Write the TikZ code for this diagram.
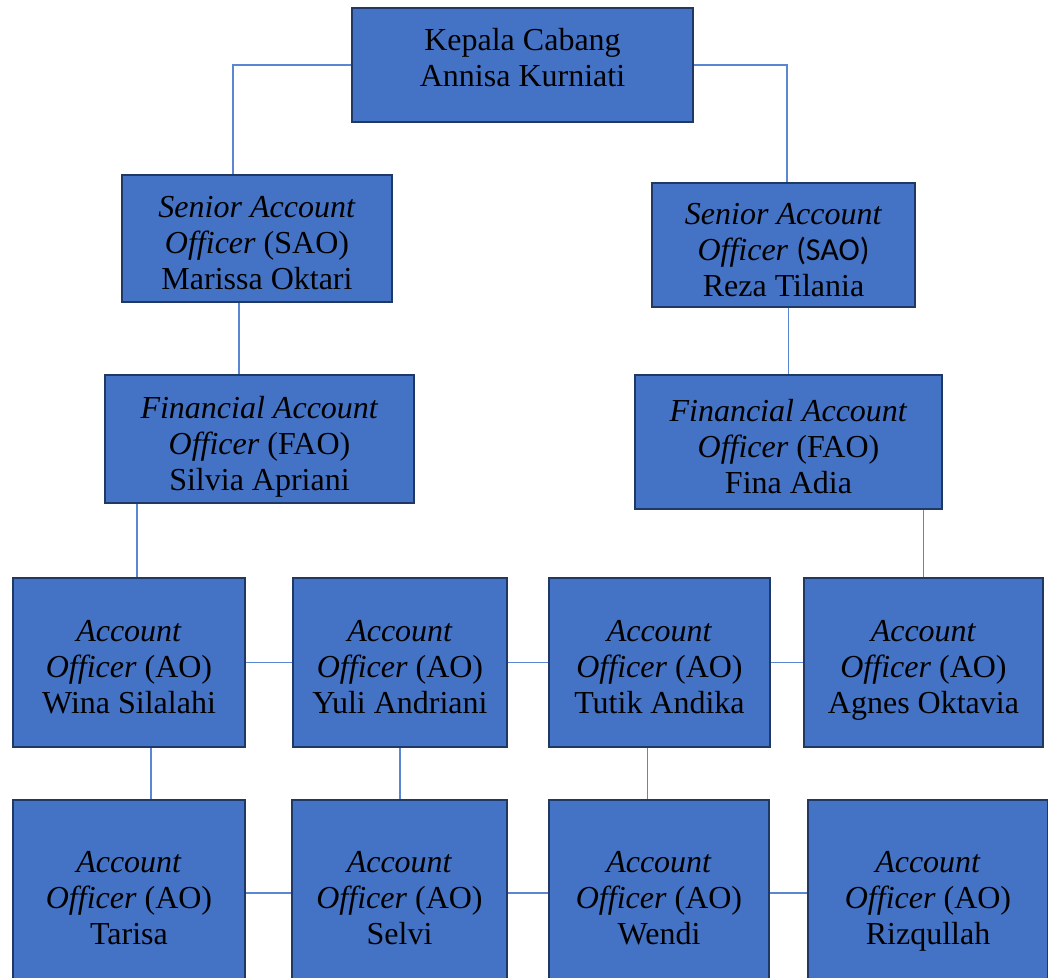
\documentclass[tikz,border=0pt]{standalone}
\usepackage{fontspec}
\setmainfont{Liberation Serif}
\newfontfamily\calibri{Carlito}
\usetikzlibrary{positioning}
\definecolor{boxfill}{HTML}{4472C4}
\definecolor{boxline}{HTML}{1F3864}
\definecolor{linkblue}{HTML}{5B86D2}
\newcommand{\orgtext}[1]{\rule{0pt}{20.6pt}#1\strut}
\tikzset{
  box/.style={draw=boxline, line width=1pt, fill=boxfill, align=center, inner sep=0pt,
    font=\fontsize{16}{18}\selectfont},
  link/.style={draw=linkblue, line width=0.6pt}
}

\begin{document}
\begin{tikzpicture}[x=0.5pt,y=-0.5pt]
\clip (0,0) rectangle (1048,978);
\fill[white] (0,0) rectangle (1048,978);

\node[box, minimum width=170.5pt, minimum height=57pt] (kc) at (522.5,65) {\orgtext{Kepala Cabang\\Annisa Kurniati\\[-6pt]\mbox{}}};
\node[box, minimum width=135pt, minimum height=63.5pt] (sao1) at (257,238.5) {\orgtext{\textit{Senior Account}\\\textit{Officer} (SAO)\\Marissa Oktari}};
\node[box, minimum width=131.5pt, minimum height=62pt] (sao2) at (783.5,245) {\orgtext{\textit{Senior Account}\\\textit{Officer} {\calibri(SAO)}\\Reza Tilania}};
\node[box, minimum width=154.5pt, minimum height=64pt] (fao1) at (259.5,439) {\orgtext{\textit{Financial Account}\\\textit{Officer} (FAO)\\Silvia Apriani}};
\node[box, minimum width=153.5pt, minimum height=67pt] (fao2) at (788.5,442) {\orgtext{\textit{Financial Account}\\\textit{Officer} (FAO)\\Fina Adia}};

\node[box, minimum width=116pt, minimum height=84.5pt] (wina) at (129,662.5) {\orgtext{\textit{Account}\\\textit{Officer} (AO)\\Wina Silalahi}};
\node[box, minimum width=107pt, minimum height=84.5pt] (yuli) at (400,662.5) {\orgtext{\textit{Account}\\\textit{Officer} (AO)\\Yuli Andriani}};
\node[box, minimum width=110.5pt, minimum height=84.5pt] (tutik) at (659.5,662.5) {\orgtext{\textit{Account}\\\textit{Officer} (AO)\\Tutik Andika}};
\node[box, minimum width=119.5pt, minimum height=84.5pt] (agnes) at (923.5,662.5) {\orgtext{\textit{Account}\\\textit{Officer} (AO)\\Agnes Oktavia}};

\node[box, minimum width=116pt, minimum height=93pt] (tarisa) at (129,893) {\orgtext{\textit{Account}\\\textit{Officer} (AO)\\Tarisa}};
\node[box, minimum width=107.5pt, minimum height=93pt] (selvi) at (399.5,893) {\orgtext{\textit{Account}\\\textit{Officer} (AO)\\Selvi}};
\node[box, minimum width=110pt, minimum height=93pt] (wendi) at (659,893) {\orgtext{\textit{Account}\\\textit{Officer} (AO)\\Wendi}};
\node[box, minimum width=120pt, minimum height=93pt] (rizq) at (928,893) {\orgtext{\textit{Account}\\\textit{Officer} (AO)\\Rizqullah}};

\draw[link] (kc.west) -| ([xshift=-12pt]sao1.north);
\draw[link] (kc.east) -| ([xshift=1.75pt]sao2.north);
\draw[link] ([xshift=-9pt]sao1.south) -- ([xshift=-9pt]sao1.south |- fao1.north);
\draw[link] (fao2.north) -- (fao2.north |- sao2.south);
\draw[link] ([xshift=4pt]wina.north) -- ([xshift=4pt]wina.north |- fao1.south);
\draw[link] (agnes.north) -- (agnes.north |- fao2.south);

\draw[link] (wina.east) -- (yuli.west);
\draw[link] (yuli.east) -- (tutik.west);
\draw[link] (tutik.east) -- (agnes.west);

\draw[link] ([xshift=11pt]wina.south) -- ([xshift=11pt]wina.south |- tarisa.north);
\draw[link] (yuli.south) -- (yuli.south |- selvi.north);
\draw[link] ([xshift=-6pt]tutik.south) -- ([xshift=-6pt]tutik.south |- wendi.north);

\draw[link] (tarisa.east) -- (selvi.west);
\draw[link] (selvi.east) -- (wendi.west);
\draw[link] (wendi.east) -- (rizq.west);
\end{tikzpicture}
\end{document}
